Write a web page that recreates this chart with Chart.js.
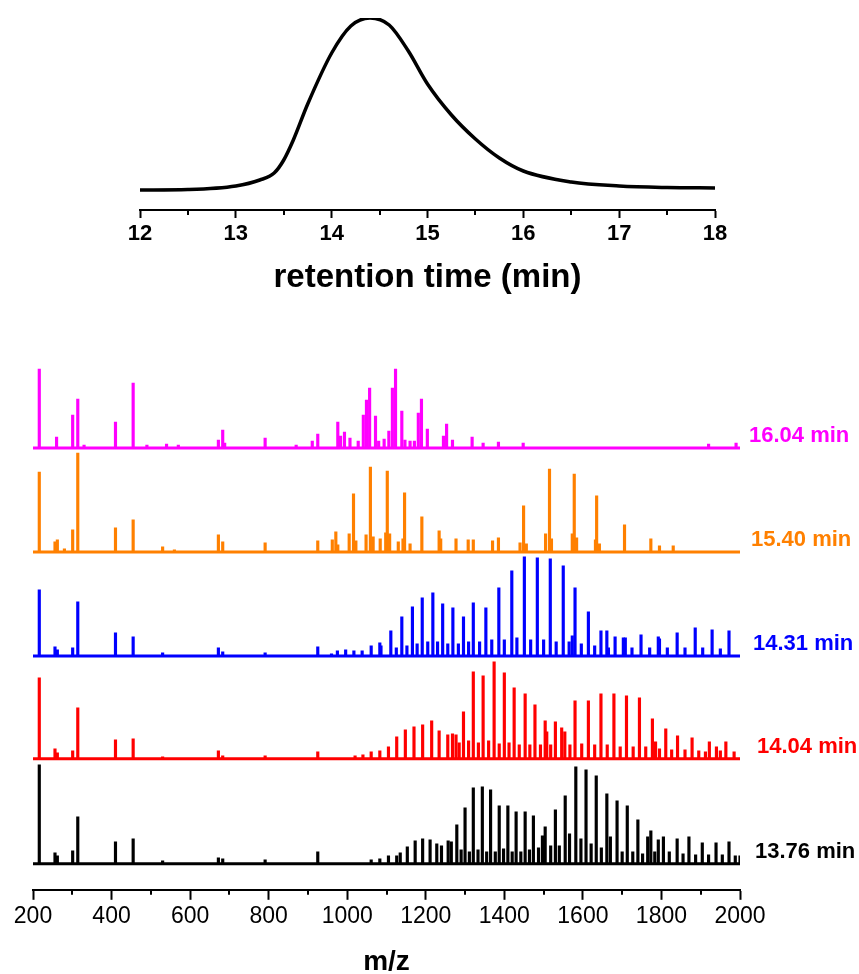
<!DOCTYPE html>
<html>
<head>
<meta charset="utf-8">
<script src="https://cdn.jsdelivr.net/npm/chart.js@4.4.1/dist/chart.umd.min.js"></script>
<style>
  html, body { margin: 0; padding: 0; background: #fff; overflow: hidden; }
  #wrap { position: relative; width: 859px; height: 974px; }
  #chromChart { position: absolute; left: 0; top: 0; }
  #msChart { position: absolute; left: 0; top: 300px; }
</style>
</head>
<body>
<div id="wrap">
  <canvas id="chromChart" width="859" height="300"></canvas>
  <canvas id="msChart" width="859" height="680"></canvas>
</div>
<script>
// chromatogram
const rtTime = [12, 12.5, 13, 13.25, 13.4, 13.5, 13.6, 13.75, 14, 14.2, 14.4, 14.6, 14.8, 15, 15.25, 15.5, 15.75, 16, 16.5, 17, 17.5, 18];
const rtSignal = [0, 0.5, 4, 10, 17, 30, 50, 86, 137, 164, 172, 165, 139, 106, 75, 51, 32, 19, 8, 4, 2.5, 2];

// mass spectra, one pair of arrays per retention time
const mz1604 = [216, 260, 301, 314, 330, 410, 455, 490, 540, 570, 672, 683, 688, 791, 870, 911, 925, 976, 983, 993, 1007, 1028, 1041, 1049, 1057, 1072, 1080, 1094, 1106, 1115, 1123, 1139, 1147, 1160, 1171, 1181, 1189, 1204, 1245, 1253, 1268, 1318, 1346, 1385, 1448, 1920, 1990];
const int1604 = [79, 11, 33, 49, 3, 26, 65, 3, 4, 3, 8, 18, 5, 10, 3, 7, 14, 26, 12, 16, 10, 7, 33, 48, 60, 32, 7, 9, 17, 60, 79, 37, 8, 7, 7, 35, 49, 19, 12, 24, 8, 11, 5, 6, 5, 4, 5];

const mz1540 = [216, 256, 262, 280, 301, 314, 410, 455, 530, 560, 672, 683, 791, 925, 962, 971, 976, 1005, 1016, 1022, 1048, 1059, 1066, 1084, 1098, 1102, 1108, 1130, 1142, 1146, 1160, 1190, 1234, 1238, 1277, 1308, 1321, 1370, 1385, 1440, 1449, 1456, 1505, 1515, 1520, 1573, 1578, 1584, 1632, 1635, 1642, 1706, 1773, 1795, 1830];
const int1540 = [80, 10, 12, 3, 22, 99, 24, 32, 5, 2, 17, 10, 9, 11, 12, 20, 7, 18, 58, 11, 17, 85, 15, 13, 19, 81, 18, 10, 13, 59, 8, 35, 21, 13, 13, 12, 12, 11, 14, 9, 46, 8, 18, 83, 13, 18, 78, 14, 12, 56, 8, 27, 13, 6, 6];

const mz1431 = [216, 256, 262, 301, 314, 410, 455, 530, 672, 683, 791, 925, 960, 975, 996, 1017, 1038, 1061, 1083, 1086, 1111, 1125, 1139, 1152, 1166, 1178, 1191, 1205, 1218, 1230, 1243, 1256, 1269, 1283, 1296, 1309, 1321, 1337, 1353, 1368, 1386, 1400, 1419, 1432, 1451, 1467, 1484, 1500, 1517, 1532, 1550, 1565, 1573, 1580, 1596, 1614, 1630, 1646, 1661, 1665, 1682, 1703, 1708, 1725, 1748, 1770, 1792, 1795, 1815, 1840, 1860, 1886, 1905, 1929, 1950, 1972];
const int1431 = [66, 9, 6, 8, 54, 23, 19, 3, 8, 4, 3, 9, 2, 5, 6, 5, 5, 10, 13, 10, 25, 8, 39, 10, 49, 12, 58, 14, 63, 14, 52, 12, 48, 12, 39, 14, 53, 14, 48, 16, 68, 16, 85, 18, 99, 16, 98, 16, 97, 14, 90, 14, 20, 68, 12, 44, 10, 25, 25, 8, 19, 18, 18, 8, 21, 8, 19, 17, 8, 23, 8, 28, 8, 26, 7, 25];

const mz1404 = [216, 256, 262, 301, 314, 410, 455, 530, 672, 683, 791, 925, 1020, 1040, 1061, 1083, 1105, 1126, 1148, 1170, 1192, 1215, 1234, 1256, 1268, 1277, 1285, 1296, 1309, 1321, 1334, 1346, 1360, 1374, 1387, 1400, 1412, 1425, 1438, 1453, 1465, 1478, 1492, 1504, 1508, 1518, 1530, 1546, 1554, 1567, 1580, 1597, 1614, 1630, 1646, 1662, 1679, 1695, 1711, 1728, 1744, 1760, 1777, 1785, 1795, 1811, 1826, 1841, 1860, 1878, 1895, 1912, 1922, 1940, 1950, 1964, 1985];
const int1404 = [81, 10, 6, 8, 51, 19, 20, 2, 8, 3, 3, 7, 3, 4, 7, 8, 12, 22, 29, 32, 34, 38, 28, 24, 25, 24, 16, 47, 18, 87, 16, 83, 18, 97, 15, 86, 16, 71, 14, 65, 14, 54, 14, 38, 27, 14, 37, 31, 27, 14, 58, 15, 58, 14, 65, 14, 65, 12, 63, 12, 61, 12, 40, 17, 10, 30, 9, 23, 9, 21, 8, 7, 17, 12, 8, 17, 7];

const mz1376 = [216, 256, 262, 301, 314, 410, 455, 530, 672, 683, 791, 925, 1061, 1083, 1105, 1126, 1135, 1153, 1173, 1192, 1211, 1228, 1240, 1257, 1265, 1279, 1290, 1300, 1311, 1321, 1333, 1344, 1355, 1365, 1377, 1387, 1398, 1409, 1420, 1430, 1442, 1453, 1464, 1474, 1487, 1497, 1504, 1518, 1530, 1540, 1555, 1566, 1582, 1595, 1608, 1621, 1634, 1647, 1661, 1670, 1687, 1700, 1713, 1727, 1740, 1752, 1765, 1773, 1783, 1792, 1805, 1820, 1840, 1855, 1870, 1887, 1904, 1920, 1939, 1955, 1972, 1988, 2000];
const int1376 = [99, 11, 8, 13, 47, 22, 25, 3, 6, 5, 4, 12, 4, 5, 8, 8, 11, 17, 23, 25, 24, 20, 18, 23, 22, 39, 14, 56, 12, 76, 14, 77, 12, 74, 12, 58, 15, 58, 12, 52, 12, 52, 14, 48, 16, 28, 37, 18, 54, 18, 68, 30, 97, 25, 94, 20, 88, 16, 70, 27, 63, 12, 58, 12, 44, 10, 27, 33, 12, 24, 27, 12, 25, 10, 27, 9, 21, 9, 21, 9, 22, 8, 8];

const traceLabels = ['16.04 min', '15.40 min', '14.31 min', '14.04 min', '13.76 min'];

// drawing setup
const traceMz = [mz1604, mz1540, mz1431, mz1404, mz1376];
const traceInt = [int1604, int1540, int1431, int1404, int1376];
const traceColors = ['#FF00FF', '#FF8000', '#0000FF', '#FF0000', '#000000'];
const traceOffset = [416, 312, 208, 105, 0];
const labelX = [749, 751, 753, 757, 755];

Chart.defaults.font.family = '"Liberation Sans", Arial, sans-serif';
Chart.defaults.color = '#000';

const minorTicks = {
    id: 'minorTicks',
    afterDraw(chart, args, opts) {
        const s = chart.scales.x;
        const ctx = chart.ctx;
        const n = Math.round((s.max - s.min) / opts.step);
        ctx.save();
        ctx.strokeStyle = '#000';
        ctx.lineWidth = 2;
        for (let i = 1; i < n; i += 2) {
            const px = Math.round(s.getPixelForValue(s.min + i * opts.step));
            ctx.beginPath();
            ctx.moveTo(px, s.top);
            ctx.lineTo(px, s.top + opts.len);
            ctx.stroke();
        }
        ctx.restore();
    }
};

const traceNames = {
    id: 'traceNames',
    afterDatasetsDraw(chart, args, opts) {
        if (!opts.show) return;
        const ctx = chart.ctx;
        const y = chart.scales.y;
        ctx.save();
        ctx.font = 'bold 22px "Liberation Sans", Arial, sans-serif';
        ctx.textBaseline = 'middle';
        ctx.textAlign = 'left';
        traceLabels.forEach((t, i) => {
            ctx.fillStyle = traceColors[i];
            ctx.fillText(t, labelX[i], y.getPixelForValue(traceOffset[i]) - 12);
        });
        ctx.restore();
    }
};

const chromChart = new Chart(document.getElementById('chromChart'), {
    type: 'line',
    data: {
        datasets: [{
            data: rtTime.map((t, i) => ({x: t, y: rtSignal[i]})),
            borderColor: '#000',
            borderWidth: 3.5,
            pointRadius: 0,
            cubicInterpolationMode: 'monotone'
        }]
    },
    options: {
        responsive: false,
        animation: false,
        layout: {padding: {left: 140, right: 144, top: 18, bottom: 2}},
        plugins: {
            legend: {display: false},
            tooltip: {enabled: false},
            minorTicks: {step: 0.5, len: 5}
        },
        scales: {
            x: {
                type: 'linear', min: 12, max: 18,
                grid: {drawOnChartArea: false, tickLength: 8, tickWidth: 2, tickColor: '#000'},
                border: {color: '#000', width: 2},
                ticks: {stepSize: 1, padding: 3, maxRotation: 0, font: {size: 22, weight: 'bold'}},
                title: {display: true, text: 'retention time (min)', font: {size: 33, weight: 'bold'}, padding: {top: 8, bottom: 0}}
            },
            y: {display: false, min: -20, max: 172}
        }
    },
    plugins: [minorTicks]
});

const msDatasets = [];
traceMz.forEach((mz, i) => {
    msDatasets.push({
        type: 'line',
        data: [{x: 200, y: traceOffset[i]}, {x: 2000, y: traceOffset[i]}],
        borderColor: traceColors[i],
        borderWidth: 3,
        pointRadius: 0
    });
    msDatasets.push({
        type: 'bar',
        data: mz.map((m, j) => ({x: m, y: [traceOffset[i], traceOffset[i] + traceInt[i][j]]})),
        backgroundColor: traceColors[i],
        borderWidth: 0,
        barThickness: 2.5,
        grouped: false
    });
});

const msChart = new Chart(document.getElementById('msChart'), {
    type: 'bar',
    data: {datasets: msDatasets},
    options: {
        responsive: false,
        animation: false,
        layout: {padding: {left: 33, right: 119, top: 65, bottom: 1}},
        plugins: {
            legend: {display: false},
            tooltip: {enabled: false},
            minorTicks: {step: 100, len: 5},
            traceNames: {show: true}
        },
        scales: {
            x: {
                type: 'linear', min: 200, max: 2000, offset: false,
                grid: {drawOnChartArea: false, offset: false, tickLength: 10, tickWidth: 2, tickColor: '#000'},
                border: {color: '#000', width: 2},
                ticks: {stepSize: 200, padding: 3, maxRotation: 0, font: {size: 23}, format: {useGrouping: false}},
                title: {display: true, text: 'm/z', font: {size: 28, weight: 'bold'}, padding: {top: 12, bottom: 0}}
            },
            y: {display: false, min: -26, max: 499}
        }
    },
    plugins: [minorTicks, traceNames]
});
</script>
</body>
</html>
